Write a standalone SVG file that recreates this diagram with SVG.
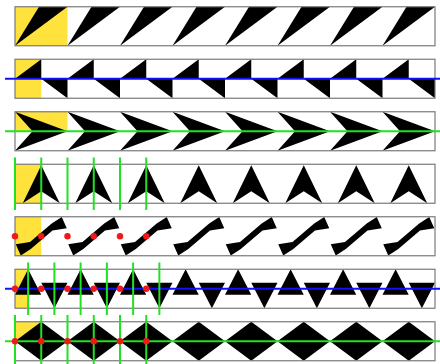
<svg xmlns="http://www.w3.org/2000/svg" xmlns:xlink="http://www.w3.org/1999/xlink" width="440" height="364" viewBox="0 0 440 364">
<style>
.bg{fill:#ffffff}
.yel{fill:#ffe23c}
.blk{fill:#000000}
.frame{fill:none;stroke:#7a7a7a;stroke-width:1.2}
.blue{stroke:#1010ff;stroke-width:2;fill:none}
.green{stroke:#22e022;stroke-width:2;fill:none}
.dot{fill:#f01818}
</style>
<defs>
<path id="m1" class="blk" d="M0,39 L24,0 L52.5,0 Z"/>
<path id="m2" class="blk" d="M0,19.5 L26.25,0 L26.25,19.5 Z M26.25,19.5 L52.5,39 L52.5,19.5 Z"/>
<path id="m3" class="blk" d="M0,0 L52.5,19.5 L0,39 L17.5,19.5 Z"/>
<path id="m4" class="blk" d="M26.25,1 L44.75,39 L26.25,27 L7.75,39 Z"/>
<path id="m5" class="blk" d="M0.75,27.5 L15,25.2 L36.7,6.8 L46.75,0.2 L51.75,11.5 L37.5,13.8 L15.8,32.2 L5.75,38.8 Z"/>
<path id="m6" class="blk" d="M0,25.5 L13.125,0 L26.25,25.5 Z M26.25,13.5 L52.5,13.5 L39.375,39 Z"/>
<path id="m7" class="blk" d="M0,19.5 L26.25,0 L52.5,19.5 L26.25,39 Z"/>
</defs>

<g id="strip1" transform="translate(0,6.75)">
<rect class="bg" x="15" y="0" width="420" height="39"/>
<rect class="yel" x="15" y="0" width="52.5" height="39"/>
<use href="#m1" x="15"/><use href="#m1" x="67.5"/><use href="#m1" x="120"/><use href="#m1" x="172.5"/><use href="#m1" x="225"/><use href="#m1" x="277.5"/><use href="#m1" x="330"/><use href="#m1" x="382.5"/>
<rect class="frame" x="15" y="0" width="420" height="39"/>
</g>

<g id="strip2" transform="translate(0,59.25)">
<rect class="bg" x="15" y="0" width="420" height="39"/>
<rect class="yel" x="15" y="0" width="26.25" height="39"/>
<use href="#m2" x="15"/><use href="#m2" x="67.5"/><use href="#m2" x="120"/><use href="#m2" x="172.5"/><use href="#m2" x="225"/><use href="#m2" x="277.5"/><use href="#m2" x="330"/><use href="#m2" x="382.5"/>
<rect class="frame" x="15" y="0" width="420" height="39"/>
</g>

<g id="strip3" transform="translate(0,111.75)">
<rect class="bg" x="15" y="0" width="420" height="39"/>
<rect class="yel" x="15" y="0" width="52.5" height="19.5"/>
<use href="#m3" x="15"/><use href="#m3" x="67.5"/><use href="#m3" x="120"/><use href="#m3" x="172.5"/><use href="#m3" x="225"/><use href="#m3" x="277.5"/><use href="#m3" x="330"/><use href="#m3" x="382.5"/>
<rect class="frame" x="15" y="0" width="420" height="39"/>
</g>

<g id="strip4" transform="translate(0,164.25)">
<rect class="bg" x="15" y="0" width="420" height="39"/>
<rect class="yel" x="15" y="0" width="26.25" height="39"/>
<use href="#m4" x="15"/><use href="#m4" x="67.5"/><use href="#m4" x="120"/><use href="#m4" x="172.5"/><use href="#m4" x="225"/><use href="#m4" x="277.5"/><use href="#m4" x="330"/><use href="#m4" x="382.5"/>
<rect class="frame" x="15" y="0" width="420" height="39"/>
</g>

<g id="strip5" transform="translate(0,216.75)">
<rect class="bg" x="15" y="0" width="420" height="39"/>
<rect class="yel" x="15" y="0" width="26.25" height="39"/>
<use href="#m5" x="15"/><use href="#m5" x="67.5"/><use href="#m5" x="120"/><use href="#m5" x="172.5"/><use href="#m5" x="225"/><use href="#m5" x="277.5"/><use href="#m5" x="330"/><use href="#m5" x="382.5"/>
<rect class="frame" x="15" y="0" width="420" height="39"/>
</g>

<g id="strip6" transform="translate(0,269.25)">
<rect class="bg" x="15" y="0" width="420" height="39"/>
<rect class="yel" x="15" y="0" width="13.125" height="39"/>
<use href="#m6" x="15"/><use href="#m6" x="67.5"/><use href="#m6" x="120"/><use href="#m6" x="172.5"/><use href="#m6" x="225"/><use href="#m6" x="277.5"/><use href="#m6" x="330"/><use href="#m6" x="382.5"/>
<rect class="frame" x="15" y="0" width="420" height="39"/>
</g>

<g id="strip7" transform="translate(0,321.75)">
<rect class="bg" x="15" y="0" width="420" height="39"/>
<rect class="yel" x="15" y="0" width="26.25" height="19.5"/>
<use href="#m7" x="15"/><use href="#m7" x="67.5"/><use href="#m7" x="120"/><use href="#m7" x="172.5"/><use href="#m7" x="225"/><use href="#m7" x="277.5"/><use href="#m7" x="330"/><use href="#m7" x="382.5"/>
<rect class="frame" x="15" y="0" width="420" height="39"/>
</g>

<g id="connectors">
<line class="blue" x1="5" y1="78.75" x2="440" y2="78.75"/>
<line class="green" x1="5" y1="131.25" x2="440" y2="131.25"/>
<g class="green">
<line x1="15" y1="157.5" x2="15" y2="210"/><line x1="41.25" y1="157.5" x2="41.25" y2="210"/><line x1="67.5" y1="157.5" x2="67.5" y2="210"/><line x1="93.75" y1="157.5" x2="93.75" y2="210"/><line x1="120" y1="157.5" x2="120" y2="210"/><line x1="146.25" y1="157.5" x2="146.25" y2="210"/>
</g>
<line class="blue" x1="5" y1="288.75" x2="440" y2="288.75"/>
<g class="green">
<line x1="28.125" y1="262.5" x2="28.125" y2="315"/><line x1="54.375" y1="262.5" x2="54.375" y2="315"/><line x1="80.625" y1="262.5" x2="80.625" y2="315"/><line x1="106.875" y1="262.5" x2="106.875" y2="315"/><line x1="133.125" y1="262.5" x2="133.125" y2="315"/><line x1="159.375" y1="262.5" x2="159.375" y2="315"/>
</g>
<line class="green" x1="5" y1="341.25" x2="440" y2="341.25"/>
<g class="green">
<line x1="15" y1="315" x2="15" y2="364"/><line x1="41.25" y1="315" x2="41.25" y2="364"/><line x1="67.5" y1="315" x2="67.5" y2="364"/><line x1="93.75" y1="315" x2="93.75" y2="364"/><line x1="120" y1="315" x2="120" y2="364"/><line x1="146.25" y1="315" x2="146.25" y2="364"/>
</g>
<g class="dot">
<circle cx="15" cy="236.25" r="3.2"/><circle cx="41.25" cy="236.25" r="3.2"/><circle cx="67.5" cy="236.25" r="3.2"/><circle cx="93.75" cy="236.25" r="3.2"/><circle cx="120" cy="236.25" r="3.2"/><circle cx="146.25" cy="236.25" r="3.2"/>
<circle cx="15" cy="288.75" r="3.2"/><circle cx="41.25" cy="288.75" r="3.2"/><circle cx="67.5" cy="288.75" r="3.2"/><circle cx="93.75" cy="288.75" r="3.2"/><circle cx="120" cy="288.75" r="3.2"/><circle cx="146.25" cy="288.75" r="3.2"/>
<circle cx="15" cy="341.25" r="3.2"/><circle cx="41.25" cy="341.25" r="3.2"/><circle cx="67.5" cy="341.25" r="3.2"/><circle cx="93.75" cy="341.25" r="3.2"/><circle cx="120" cy="341.25" r="3.2"/><circle cx="146.25" cy="341.25" r="3.2"/>
</g>
</g>
</svg>
